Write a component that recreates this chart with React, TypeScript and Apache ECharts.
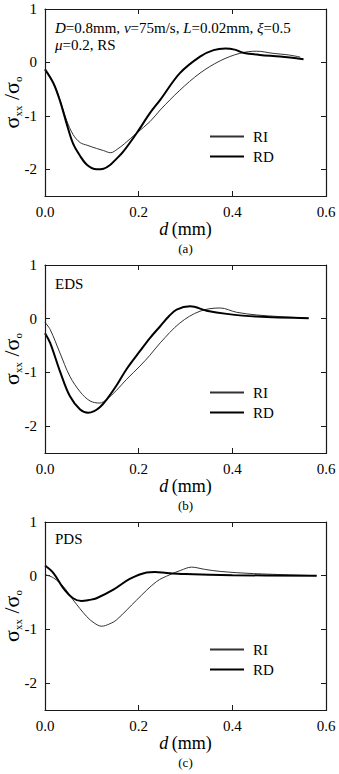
import React, { useEffect, useRef } from "react";
import * as echarts from "echarts";

const FONT = "'Liberation Serif', 'Times New Roman', Times, serif";

// d (mm) vs sigma_xx / sigma_o, residual stress profiles
const panelA_RI: [number, number][] = [
  [0, -0.13], [0.018, -0.39], [0.032, -0.7], [0.046, -1.08], [0.06, -1.35], [0.075, -1.5],
  [0.09, -1.55], [0.11, -1.61], [0.125, -1.65], [0.14, -1.69], [0.155, -1.62], [0.17, -1.52],
  [0.196, -1.32], [0.224, -1.11], [0.246, -0.89], [0.288, -0.52], [0.331, -0.2], [0.374, 0.03],
  [0.416, 0.17], [0.452, 0.21], [0.487, 0.17], [0.52, 0.14], [0.545, 0.1],
];
const panelA_RD: [number, number][] = [
  [0, -0.13], [0.018, -0.39], [0.032, -0.72], [0.046, -1.14], [0.06, -1.52], [0.075, -1.75],
  [0.09, -1.92], [0.11, -2.0], [0.125, -1.99], [0.139, -1.92], [0.153, -1.8], [0.167, -1.67],
  [0.196, -1.32], [0.224, -0.95], [0.246, -0.7], [0.288, -0.2], [0.331, 0.11], [0.36, 0.23],
  [0.385, 0.26], [0.405, 0.24], [0.423, 0.18], [0.459, 0.14], [0.502, 0.11], [0.552, 0.06],
];
const panelB_RI: [number, number][] = [
  [0, -0.07], [0.011, -0.2], [0.032, -0.64], [0.053, -1.07], [0.075, -1.36], [0.096, -1.53],
  [0.117, -1.57], [0.132, -1.5], [0.153, -1.33], [0.174, -1.13], [0.203, -0.88], [0.224, -0.68],
  [0.246, -0.45], [0.288, -0.08], [0.331, 0.14], [0.374, 0.2], [0.409, 0.12], [0.452, 0.07],
  [0.5, 0.04], [0.563, 0.01],
];
const panelB_RD: [number, number][] = [
  [0, -0.27], [0.011, -0.45], [0.032, -0.98], [0.053, -1.44], [0.075, -1.69], [0.092, -1.75],
  [0.105, -1.72], [0.117, -1.65], [0.132, -1.5], [0.153, -1.24], [0.174, -0.94], [0.203, -0.6],
  [0.224, -0.36], [0.246, -0.14], [0.265, 0.05], [0.281, 0.17], [0.31, 0.23], [0.345, 0.15],
  [0.388, 0.09], [0.452, 0.04], [0.563, 0.01],
];
const panelC_RI: [number, number][] = [
  [0, 0.02], [0.018, -0.04], [0.039, -0.2], [0.06, -0.45], [0.089, -0.76], [0.105, -0.88],
  [0.121, -0.94], [0.137, -0.9], [0.153, -0.82], [0.196, -0.45], [0.238, -0.11], [0.267, 0.02],
  [0.29, 0.1], [0.313, 0.16], [0.34, 0.12], [0.374, 0.08], [0.445, 0.04], [0.58, 0.0],
];
const panelC_RD: [number, number][] = [
  [0, 0.19], [0.018, 0.05], [0.039, -0.23], [0.06, -0.42], [0.078, -0.47], [0.095, -0.45],
  [0.11, -0.42], [0.146, -0.26], [0.181, -0.06], [0.217, 0.06], [0.235, 0.07], [0.26, 0.05],
  [0.3, 0.03], [0.4, 0.01], [0.58, 0.0],
];

const yTicks = [-2, -1, 0, 1];
const captions = ["(a)", "(b)", "(c)"];
const panelNotes = [
  "{i|D}{n|=0.8mm, }{i|v}{n|=75m/s, }{i|L}{n|=0.02mm, }{i|ξ}{n|=0.5}\n{i|μ}{n|=0.2, RS}",
  "{n|EDS}",
  "{n|PDS}",
];

const grids = [
  { left: 45, top: 9, width: 281, height: 187 },
  { left: 45, top: 265, width: 281, height: 188 },
  { left: 45, top: 522, width: 281, height: 188 },
];

const panels = [
  { ri: panelA_RI, rd: panelA_RD },
  { ri: panelB_RI, rd: panelB_RD },
  { ri: panelC_RI, rd: panelC_RD },
];

const FRAME = "#1a1a1a";
const labelText = { fontFamily: FONT, fontSize: 15, color: "#000" };
const noteRich = {
  n: { fontFamily: FONT, fontSize: 15, fontWeight: "normal", color: "#000", lineHeight: 17 },
  i: { fontFamily: FONT, fontSize: 15, fontWeight: "normal", fontStyle: "italic", color: "#000", lineHeight: 17 },
};

function axisLine() {
  return { show: true, onZero: false, lineStyle: { color: FRAME, width: 1, opacity: 1 } };
}
function axisTick(custom?: number[]) {
  const t: any = {
    show: true,
    inside: true,
    length: 5,
    lineStyle: { color: FRAME, width: 1, opacity: 1 },
  };
  if (custom) t.customValues = custom;
  return t;
}

export default function App() {
  const ref = useRef<HTMLDivElement>(null);

  useEffect(() => {
    if (!ref.current) return;
    const chart = echarts.init(ref.current, undefined, { renderer: "svg" });

    const xAxis: any[] = [];
    const yAxis: any[] = [];
    const series: any[] = [];
    const legend: any[] = [];
    const graphic: any[] = [];
    const title: any[] = [];

    grids.forEach((g, i) => {
      xAxis.push({
        gridIndex: i,
        type: "value",
        position: "bottom",
        min: 0,
        max: 0.6,
        interval: 0.2,
        axisLine: axisLine(),
        axisTick: axisTick(),
        splitLine: { show: false },
        axisLabel: {
          ...labelText,
          formatter: (v: number) => v.toFixed(1),
          margin: 8,
          showMinLabel: true,
          showMaxLabel: true,
        },
        name: "{i|d} {n|(mm)}",
        nameLocation: "middle",
        nameGap: 24,
        nameTextStyle: {
          rich: {
            i: { fontFamily: FONT, fontSize: 18, fontStyle: "italic", color: "#000" },
            n: { fontFamily: FONT, fontSize: 18, color: "#000" },
          },
        },
      });
      xAxis.push({
        gridIndex: i,
        type: "value",
        position: "top",
        min: 0,
        max: 0.6,
        interval: 0.2,
        axisLine: axisLine(),
        axisTick: axisTick(),
        axisLabel: { show: false },
        splitLine: { show: false },
      });
      yAxis.push({
        gridIndex: i,
        type: "value",
        position: "left",
        min: -2.5,
        max: 1,
        interval: 0.5,
        axisLine: axisLine(),
        axisTick: axisTick(yTicks),
        splitLine: { show: false },
        axisLabel: {
          ...labelText,
          margin: 8,
          formatter: (v: number) => (Number.isInteger(v) ? String(v) : ""),
        },
        name: "{s|σ}{b|xx}{s| /σ}{b|o}",
        nameLocation: "middle",
        nameRotate: 90,
        nameGap: 22,
        nameMoveOverlap: false,
        nameTextStyle: {
          rich: {
            s: { fontFamily: FONT, fontSize: 22, color: "#000" },
            b: { fontFamily: FONT, fontSize: 11, color: "#000", padding: [12, 0, 0, 0] },
          },
        },
      });
      yAxis.push({
        gridIndex: i,
        type: "value",
        position: "right",
        min: -2.5,
        max: 1,
        interval: 0.5,
        axisLine: axisLine(),
        axisTick: axisTick(yTicks),
        axisLabel: { show: false },
        splitLine: { show: false },
      });

      series.push({
        type: "line",
        name: "RI",
        data: panels[i].ri,
        xAxisIndex: 2 * i,
        yAxisIndex: 2 * i,
        symbol: "none",
        smooth: 0.35,
        silent: true,
        lineStyle: { color: "#333", width: 1 },
        itemStyle: { color: "#333" },
      });
      series.push({
        type: "line",
        name: "RD",
        data: panels[i].rd,
        xAxisIndex: 2 * i,
        yAxisIndex: 2 * i,
        symbol: "none",
        smooth: 0.35,
        silent: true,
        lineStyle: { color: "#000", width: 2 },
        itemStyle: { color: "#000" },
      });

      legend.push({
        data: ["RI", "RD"],
        orient: "vertical",
        left: 209,
        top: g.top + 120,
        padding: 0,
        itemWidth: 34,
        itemHeight: 14,
        itemGap: 5,
        selectedMode: false,
        itemStyle: { opacity: 0, color: "rgba(0,0,0,0)", borderWidth: 0 },
        textStyle: { ...labelText, padding: [0, 0, 0, 4] },
      });

      title.push({
        text: panelNotes[i],
        left: 55,
        top: g.top + (i === 2 ? 8 : 10),
        padding: 0,
        textStyle: { rich: noteRich, lineHeight: 17, fontWeight: "normal" },
      });

      // plot frame around each panel
      graphic.push({
        type: "rect",
        z: 100,
        silent: true,
        shape: { x: g.left + 0.5, y: g.top + 0.5, width: g.width, height: g.height },
        style: { fill: "none", stroke: FRAME, lineWidth: 1.2 },
      });

      graphic.push({
        type: "text",
        x: g.left + g.width / 2,
        y: g.top + g.height + 52,
        style: {
          text: captions[i],
          fontFamily: FONT,
          fontSize: 13,
          fill: "#000",
          align: "center",
          verticalAlign: "middle",
        },
      });
    });

    chart.setOption({
      animation: false,
      backgroundColor: "#fff",
      grid: grids.map((g) => ({
        ...g,
        containLabel: false,
        outerBoundsMode: "none",
        show: false,
      })),
      xAxis,
      yAxis,
      series,
      legend,
      title,
      graphic,
    });

    return () => chart.dispose();
  }, []);

  return (
    <div
      ref={ref}
      style={{ position: "fixed", left: 0, top: 0, width: 339, height: 774, background: "#fff" }}
    />
  );
}
